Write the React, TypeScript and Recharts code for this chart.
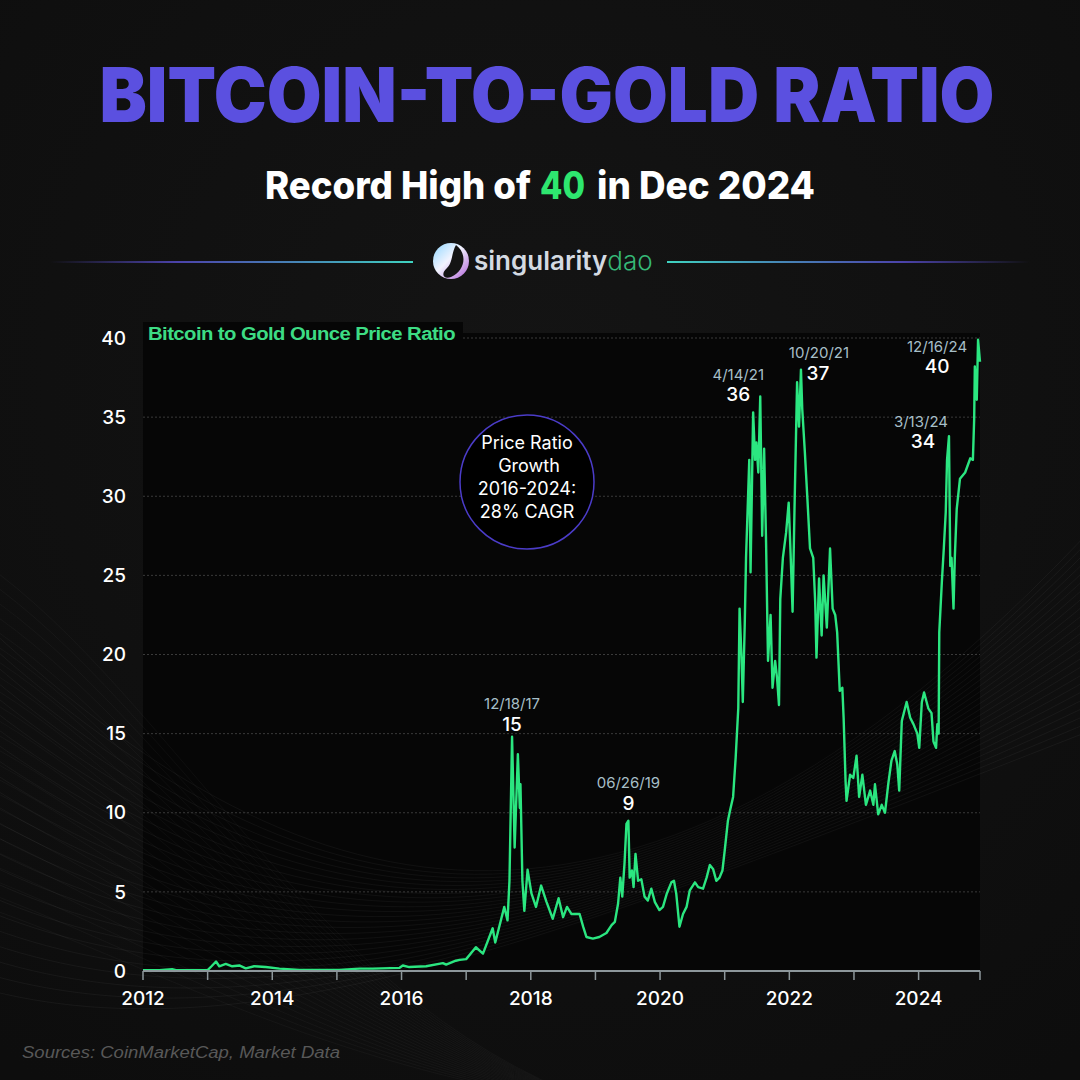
import React from 'react';
import { LineChart, Line, XAxis, YAxis, CartesianGrid, ReferenceDot } from 'recharts';

// ratio, decimal year -> BTC / gold ounce
const years = [
  2012.0, 2012.25, 2012.45, 2012.51, 2013.0, 2013.06, 2013.13, 2013.18, 2013.28, 2013.38,
  2013.49, 2013.59, 2013.72, 2013.9, 2014.11, 2014.42, 2014.73, 2015.04, 2015.35, 2015.55,
  2015.97, 2016.02, 2016.12, 2016.38, 2016.64, 2016.69, 2016.84, 2016.9, 2017.0, 2017.15,
  2017.26, 2017.41, 2017.45, 2017.59, 2017.64, 2017.67, 2017.71, 2017.75, 2017.8, 2017.83,
  2017.84, 2017.87, 2017.9, 2017.95, 2018.01, 2018.08, 2018.16, 2018.24, 2018.34, 2018.43,
  2018.5, 2018.56, 2018.63,
  2018.755, 2018.81, 2018.86, 2018.96, 2019.06, 2019.17, 2019.25, 2019.3, 2019.35, 2019.385,
  2019.415, 2019.45, 2019.48, 2019.51, 2019.53, 2019.565, 2019.59, 2019.62, 2019.66, 2019.71,
  2019.76, 2019.81, 2019.865, 2019.92, 2019.99, 2020.045, 2020.105, 2020.175, 2020.215, 2020.25,
  2020.3, 2020.355, 2020.41, 2020.46, 2020.54, 2020.59, 2020.665, 2020.72, 2020.77, 2020.82,
  2020.87, 2020.92, 2020.965, 2021.0, 2021.05, 2021.08,
  2021.13, 2021.17, 2021.21, 2021.23, 2021.26, 2021.28, 2021.31, 2021.33, 2021.38, 2021.4,
  2021.44, 2021.47, 2021.49, 2021.52, 2021.55, 2021.58, 2021.61, 2021.64, 2021.66, 2021.67,
  2021.71, 2021.74, 2021.78, 2021.81, 2021.84, 2021.86, 2021.9, 2021.95, 2021.99, 2022.02,
  2022.05, 2022.08, 2022.12, 2022.15, 2022.18, 2022.2, 2022.24, 2022.28, 2022.32, 2022.37,
  2022.4, 2022.42, 2022.46, 2022.5, 2022.53, 2022.58, 2022.63, 2022.67, 2022.71, 2022.74,
  2022.78, 2022.82, 2022.84, 2022.87, 2022.885, 2022.94, 2022.99, 2023.04, 2023.08, 2023.13,
  2023.185, 2023.25, 2023.3, 2023.325, 2023.375, 2023.43, 2023.48, 2023.53, 2023.58, 2023.63,
  2023.67, 2023.7, 2023.74, 2023.815, 2023.87, 2023.92, 2023.98, 2024.01, 2024.05, 2024.085,
  2024.15, 2024.2, 2024.23, 2024.27, 2024.29, 2024.31,
  2024.32, 2024.36, 2024.39, 2024.42, 2024.44, 2024.47, 2024.49, 2024.51, 2024.54, 2024.56,
  2024.59, 2024.64, 2024.72, 2024.8, 2024.84, 2024.86, 2024.87, 2024.9, 2024.92, 2024.95,
];
const ratio = [
  0.05, 0.05, 0.12, 0.05, 0.06, 0.3, 0.6, 0.3, 0.45, 0.3,
  0.35, 0.17, 0.3, 0.25, 0.15, 0.07, 0.06, 0.07, 0.15, 0.15,
  0.2, 0.35, 0.25, 0.3, 0.5, 0.4, 0.65, 0.7, 0.75, 1.5,
  1.1, 2.7, 1.8, 4.05, 3.2, 5.7, 14.8, 7.8, 13.7, 10.3,
  11.8, 5.7, 3.8, 6.4, 4.9, 4.05, 5.4, 4.4, 3.3, 4.6,
  3.4, 4.05, 3.6,
  3.6, 2.8, 2.15, 2.05, 2.15, 2.4, 2.9, 3.1, 4.25, 5.9,
  4.7, 6.8, 9.3, 9.5, 5.9, 6.35, 5.3, 7.4, 5.7, 5.8,
  4.7, 4.45, 5.2, 4.35, 3.85, 4.05, 4.9, 5.6, 5.7, 4.9,
  2.8, 3.6, 4.05, 5.1, 5.6, 5.3, 5.2, 5.9, 6.7, 6.45,
  5.7, 5.9, 6.35, 7.6, 9.5, 10.1,
  11.0, 13.5, 16.6, 22.9, 19.8, 17.0, 21.9, 26.1, 32.3, 25.2,
  35.3, 32.3, 33.4, 31.5, 36.3, 27.5, 33.0, 27.1, 22.1, 19.6,
  22.5, 17.9, 19.6, 18.5, 16.8, 23.5, 26.1, 27.7, 29.6, 26.3,
  22.7, 29.2, 37.2, 34.4, 38.0, 35.5, 32.8, 29.8, 26.7, 26.1,
  23.3, 19.8, 24.8, 21.2, 25.0, 21.7, 26.7, 22.9, 22.5, 21.4,
  17.7, 17.9, 16.0, 12.0, 10.75, 12.4, 12.2, 13.6, 11.0, 12.4,
  10.5, 11.4, 10.5, 11.8, 9.9, 10.5, 10.0, 11.8, 13.3, 13.9,
  13.05, 11.4, 15.8, 17.0, 16.0, 15.6, 15.0, 14.1, 17.0, 17.6,
  16.6, 16.3, 14.5, 14.1, 15.6, 15.0,
  21.4, 24.6, 26.7, 29.0, 32.3, 33.8, 25.6, 26.1, 22.9, 26.1,
  29.2, 31.1, 31.5, 32.4, 32.3, 34.9, 38.2, 36.1, 39.9, 38.5,
];

const yTicks = [0, 5, 10, 15, 20, 25, 30, 35, 40];
const xTicks = [2012, 2013, 2014, 2015, 2016, 2017, 2018, 2019, 2020, 2021, 2022, 2023, 2024, 2024.95];
const xLabels = ['2012', '2014', '2016', '2018', '2020', '2022', '2024'];

const peakDates = ['12/18/17', '06/26/19', '4/14/21', '10/20/21', '3/13/24', '12/16/24'];
const peakLabels = ['15', '9', '36', '37', '34', '40'];
const peakYears = [2017.71, 2019.51, 2021.55, 2022.18, 2024.47, 2024.92];
const peakValues = [14.8, 9.5, 36.3, 38.0, 33.8, 39.9];

// where each callout sits relative to its peak (px)
const peakOffsets = [
  { dx: 0, dateDy: -28, valDx: 0, valDy: -6 },
  { dx: 0, dateDy: -33, valDx: 0, valDy: -11 },
  { dx: -22, dateDy: -17, valDx: -22, valDy: 4 },
  { dx: 18, dateDy: -12, valDx: 17, valDy: 10 },
  { dx: -28, dateDy: -9, valDx: -26, valDy: 12 },
  { dx: -41, dateDy: 12, valDx: -41, valDy: 33 },
];

const data = years.map((t, i) => ({ t, v: ratio[i] }));

const GREEN = '#2be680';
const FONT = 'Inter, "Liberation Sans", sans-serif';

function Waves() {
  const a = [];
  for (let i = 0; i < 24; i++) {
    a.push(
      <path key={'a' + i} d={`M -20 ${620 + i * 16} C 260 ${880 + i * 8}, 600 ${1060 - i * 6}, 1100 ${520 + i * 9}`}
        fill="none" stroke="#fff" strokeOpacity={0.045} strokeWidth={1} />
    );
    a.push(
      <path key={'b' + i} d={`M -20 ${560 + i * 15} C 180 ${700 + i * 12}, 320 ${1020 + i * 2}, 620 1110`}
        fill="none" stroke="#fff" strokeOpacity={0.03} strokeWidth={1} />
    );
  }
  return <g>{a}</g>;
}

export default function App() {
  return (
    <div style={{ position: 'absolute', left: 0, top: 0, width: 1080, height: 1080, overflow: 'hidden', background: '#121212', fontFamily: FONT }}>
      <svg width={1080} height={1080} style={{ position: 'absolute', left: 0, top: 0 }}>
        <defs>
          <radialGradient id="bg" cx="0.5" cy="0.35" r="0.8">
            <stop offset="0" stopColor="#141414" />
            <stop offset="1" stopColor="#0d0d0d" />
          </radialGradient>
          <linearGradient id="lineL" x1="0" x2="1" y1="0" y2="0">
            <stop offset="0" stopColor="#5a4fd0" stopOpacity={0} />
            <stop offset="0.35" stopColor="#5a4fd0" stopOpacity={0.8} />
            <stop offset="1" stopColor="#3fd3c0" />
          </linearGradient>
          <linearGradient id="lineR" x1="0" x2="1" y1="0" y2="0">
            <stop offset="0" stopColor="#3fd3c0" />
            <stop offset="0.65" stopColor="#5a4fd0" stopOpacity={0.8} />
            <stop offset="1" stopColor="#5a4fd0" stopOpacity={0} />
          </linearGradient>
          <linearGradient id="logo" x1="0" x2="1" y1="0" y2="1">
            <stop offset="0" stopColor="#8fd6ff" />
            <stop offset="0.45" stopColor="#f2f4ff" />
            <stop offset="1" stopColor="#b060d8" />
          </linearGradient>
        </defs>
        <rect width={1080} height={1080} fill="url(#bg)" />
        <rect x={143} y={333} width={837} height={638} fill="#060606" />
        <Waves />

        <text x={547} y={122} textAnchor="middle" fontSize={75} fontWeight={900} fill="#5b50e0"
          textLength={895} lengthAdjust="spacingAndGlyphs" fontFamily={FONT}>BITCOIN-TO-GOLD RATIO</text>
        <g fontSize={38} fontWeight={800} fontFamily={FONT}>
          <text x={265} y={199} fill="#fff" textLength={266} lengthAdjust="spacingAndGlyphs">Record High of</text>
          <text x={540} y={199} fill="#2ee66f" textLength={45} lengthAdjust="spacingAndGlyphs">40</text>
          <text x={597} y={199} fill="#fff" textLength={218} lengthAdjust="spacingAndGlyphs">in Dec 2024</text>
        </g>

        <rect x={50} y={261} width={363} height={2} fill="url(#lineL)" />
        <rect x={667} y={261} width={363} height={2} fill="url(#lineR)" />
        <circle cx={451} cy={261} r={18} fill="url(#logo)" />
        <path d="M456,245 C468,254 465,271 451,277 C444,280 440,274 447,268 C453,262 451,254 456,245Z" fill="#141414" />
        <text x={474} y={270} fontSize={26} fontFamily={FONT}>
          <tspan fill="#d4dae2" fontWeight={600}>singularity</tspan>
          <tspan fill="#36b877" fontWeight={300}>dao</tspan>
        </text>
      </svg>

      <div style={{ position: 'absolute', left: 0, top: 0 }}>
        <LineChart width={1080} height={1080} data={data} margin={{ top: 338, right: 100, bottom: 79, left: 83 }}>
          <CartesianGrid vertical={false} stroke="#3a3a3a" strokeDasharray="2 2" />
          <XAxis dataKey="t" type="number" domain={[2012, 2024.95]} ticks={xTicks} interval={0}
            tickFormatter={(v) => (xLabels.includes(String(v)) ? String(v) : '')}
            axisLine={{ stroke: '#8d979b', strokeWidth: 2 }} tickLine={{ stroke: '#8d979b', strokeWidth: 1.5 }}
            tickSize={9} tickMargin={12} height={30}
            tick={{ fill: '#fff', fontSize: 19, fontWeight: 500, fontFamily: FONT }} />
          <YAxis type="number" domain={[0, 40]} ticks={yTicks} width={60} axisLine={false} tickLine={false}
            tickSize={0} tickMargin={17} tick={{ fill: '#fff', fontSize: 19, fontWeight: 500, fontFamily: FONT }} />
          <Line type="linear" dataKey="v" stroke={GREEN} strokeWidth={2.4} strokeLinejoin="round" dot={false} isAnimationActive={false} />
          {peakYears.map((t, i) => (
            <ReferenceDot key={i} x={t} y={peakValues[i]} r={0} ifOverflow="visible"
              shape={(p: any) => (
                <g>
                  <text x={p.cx + peakOffsets[i].dx} y={p.cy + peakOffsets[i].dateDy} textAnchor="middle"
                    fontSize={15} fill="#a6bfc8" fontFamily={FONT}>{peakDates[i]}</text>
                  <text x={p.cx + peakOffsets[i].valDx} y={p.cy + peakOffsets[i].valDy} textAnchor="middle"
                    fontSize={19} fontWeight={500} fill="#fff" fontFamily={FONT}>{peakLabels[i]}</text>
                </g>
              )} />
          ))}
        </LineChart>
      </div>

      <svg width={1080} height={1080} style={{ position: 'absolute', left: 0, top: 0, pointerEvents: 'none' }}>
        <rect x={143} y={322} width={320} height={26} fill="#060606" />
        <text x={148} y={340} fontSize={18} fontWeight={700} fill="#3ddc84" fontFamily='"Liberation Sans", Arial, sans-serif'
          textLength={307} lengthAdjust="spacingAndGlyphs" letterSpacing={-0.5}>Bitcoin to Gold Ounce Price Ratio</text>

        <circle cx={527} cy={482} r={67} fill="#000" stroke="#4b3cc8" strokeWidth={1.5} />
        <g fontSize={18} fill="#fff" textAnchor="middle" fontFamily={FONT}>
          <text x={527} y={449}>Price Ratio</text>
          <text x={529} y={472}>Growth</text>
          <text x={527} y={495}>2016-2024:</text>
          <text x={527} y={518}>28% CAGR</text>
        </g>

        <text x={22} y={1058} fontSize={16} fontStyle="italic" fill="#585858"
          fontFamily='"Liberation Sans", Arial, sans-serif' textLength={318} lengthAdjust="spacingAndGlyphs">
          Sources: CoinMarketCap, Market Data
        </text>
      </svg>
    </div>
  );
}
